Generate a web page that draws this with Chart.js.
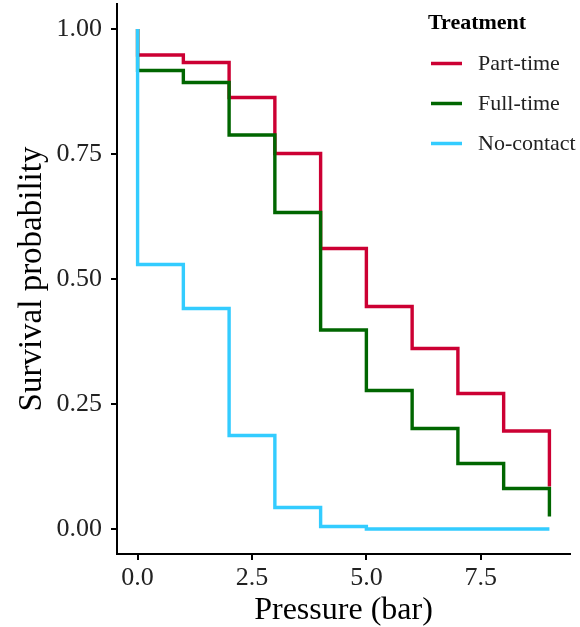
<!DOCTYPE html>
<html>
<head>
<meta charset="UTF-8" />
<title>Survival probability by pressure</title>
<script src="https://cdn.jsdelivr.net/npm/chart.js"></script>
<style>
  body { margin: 0; background: #fff; }
</style>
</head>
<body>
<canvas id="myChart" width="580" height="627"></canvas>
<script>
// pressure steps (bar); the first 0 is the starting point at 1.00
const pressure = [0, 0, 1, 2, 3, 4, 5, 6, 7, 8, 9];

// survival probability
const partTime  = [1, 0.948, 0.933, 0.863, 0.751, 0.561, 0.445, 0.361, 0.271, 0.196, 0.085];
const fullTime  = [1, 0.917, 0.893, 0.788, 0.633, 0.398, 0.277, 0.201, 0.131, 0.081, 0.025];
const noContact = [1, 0.529, 0.441, 0.187, 0.043, 0.005, 0, 0, 0, 0, 0];

const xTicks = [0, 2.5, 5, 7.5];
const yTicks = [0, 0.25, 0.5, 0.75, 1];

const legendTitle = 'Treatment';
const serif = "'Liberation Serif', 'Times New Roman', serif";

function toPoints(ys) {
  return pressure.map((x, i) => ({ x: x, y: ys[i] }));
}

// ggplot style legend sitting inside the top right corner
const insideLegend = {
  id: 'insideLegend',
  afterDraw(chart) {
    const ctx = chart.ctx;
    ctx.save();
    ctx.fillStyle = '#000';
    ctx.textBaseline = 'middle';
    ctx.textAlign = 'left';
    ctx.font = 'bold 22px ' + serif;
    ctx.fillText(legendTitle, 428, 23);
    ctx.font = '22px ' + serif;
    chart.data.datasets.forEach((ds, i) => {
      const y = 63.5 + i * 40;
      ctx.strokeStyle = ds.borderColor;
      ctx.lineWidth = 3.5;
      ctx.beginPath();
      ctx.moveTo(431, y);
      ctx.lineTo(462, y);
      ctx.stroke();
      ctx.fillStyle = '#222';
      ctx.fillText(ds.label, 478, y + 1);
    });
    ctx.restore();
  }
};

const ctx = document.getElementById('myChart').getContext('2d');
new Chart(ctx, {
  type: 'line',
  data: {
    datasets: [
      { label: 'Part-time', data: toPoints(partTime), borderColor: '#CC0033', order: 2 },
      { label: 'Full-time', data: toPoints(fullTime), borderColor: '#006600', order: 1 },
      { label: 'No-contact', data: toPoints(noContact), borderColor: '#33CCFF', order: 0 }
    ]
  },
  options: {
    responsive: false,
    animation: false,
    layout: { padding: { top: 4, right: 10, left: 0, bottom: 0 } },
    elements: {
      line: { borderWidth: 3.4, stepped: true, fill: false, tension: 0 },
      point: { radius: 0 }
    },
    plugins: {
      legend: { display: false },
      tooltip: { enabled: false }
    },
    scales: {
      x: {
        type: 'linear',
        min: -0.45,
        max: 9.45,
        afterBuildTicks: s => { s.ticks = xTicks.map(v => ({ value: v })); },
        afterFit: s => { s.height = 73; s.paddingLeft = 0; s.paddingRight = 0; },
        grid: { drawOnChartArea: false, drawTicks: true, tickLength: 6, color: '#000', lineWidth: 2 },
        border: { display: true, color: '#000', width: 2 },
        ticks: {
          padding: 3,
          color: '#222',
          font: { family: serif, size: 26 },
          callback: v => v.toFixed(1)
        },
        title: {
          display: true,
          text: 'Pressure (bar)',
          color: '#000',
          font: { family: serif, size: 32, lineHeight: 1 },
          padding: { top: 0, bottom: 0 }
        }
      },
      y: {
        min: -0.05,
        max: 1.05,
        afterBuildTicks: s => { s.ticks = yTicks.map(v => ({ value: v })); },
        afterFit: s => { s.width = 117; s.paddingTop = 0; s.paddingBottom = 0; },
        grid: { drawOnChartArea: false, drawTicks: true, tickLength: 6, color: '#000', lineWidth: 2 },
        border: { display: true, color: '#000', width: 2 },
        ticks: {
          padding: 9,
          color: '#222',
          font: { family: serif, size: 26 },
          callback: v => v.toFixed(2)
        },
        title: {
          display: true,
          text: 'Survival probability',
          color: '#000',
          font: { family: serif, size: 33, lineHeight: 1 },
          padding: { top: 16, bottom: 0 }
        }
      }
    }
  },
  plugins: [insideLegend]
});
</script>
</body>
</html>
